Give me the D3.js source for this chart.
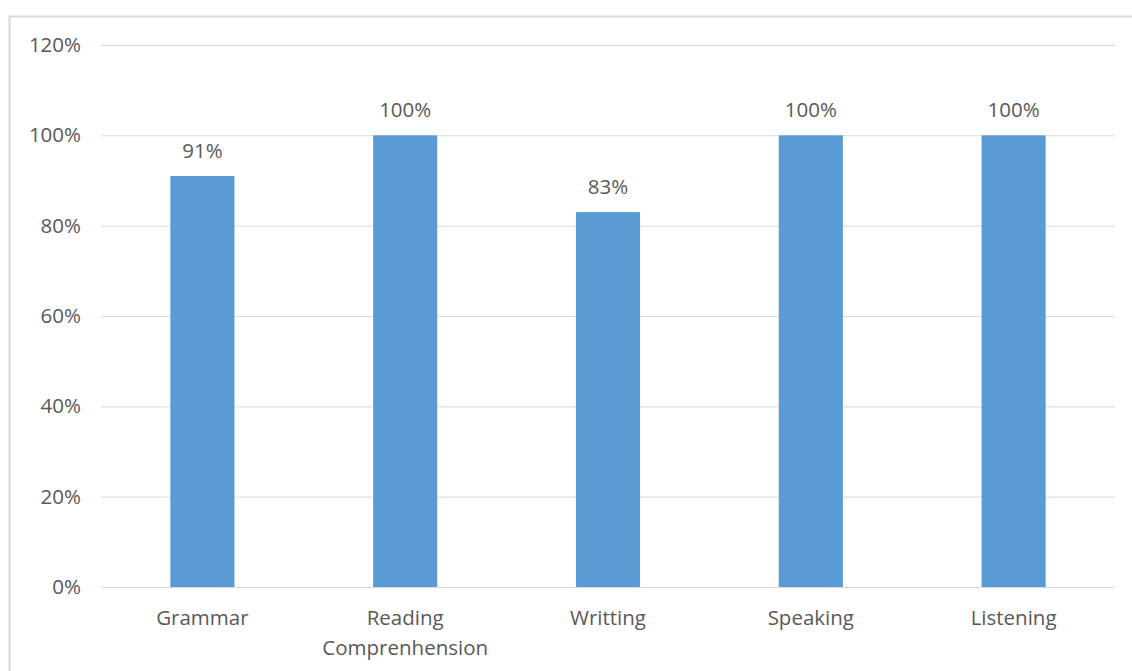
<!DOCTYPE html>
<html>
<head>
<meta charset="utf-8">
<script src="https://cdn.jsdelivr.net/npm/d3@7"></script>
<style>
  body { margin: 0; background: #fff; }
  svg text { font-family: "Open Sans", Lato, sans-serif; fill: #595959; }
</style>
</head>
<body>
<div id="chart"></div>
<script>
// data
const skills = ["Grammar", "Reading Comprenhension", "Writting", "Speaking", "Listening"];
const scores = [0.91, 1.00, 0.83, 1.00, 1.00];
const yTicks = [0, 0.2, 0.4, 0.6, 0.8, 1.0, 1.2];

const width = 1132, height = 671;
const fontSize = 20.5;

const svg = d3.select("div#chart").append("svg")
    .attr("width", width)
    .attr("height", height);

// chart frame
svg.append("rect")
    .attr("x", 9.5)
    .attr("y", 16.5)
    .attr("width", 1140)
    .attr("height", 700)
    .attr("fill", "none")
    .attr("stroke", "#d9d9d9")
    .attr("stroke-width", 2);

const x = d3.scaleBand()
    .domain(skills)
    .range([101, 1115])
    .paddingInner(0.684)
    .paddingOuter(0.342);

const y = d3.scaleLinear()
    .domain([0, 1.2])
    .range([587, 45]);

// grid lines
svg.append("g")
    .selectAll("line")
    .data(yTicks)
    .join("line")
    .attr("x1", 101)
    .attr("x2", 1115)
    .attr("y1", d => y(d) + 0.5)
    .attr("y2", d => y(d) + 0.5)
    .attr("stroke", "#d9d9d9")
    .attr("stroke-width", 1);

// y tick labels
svg.append("g")
    .selectAll("text")
    .data(yTicks)
    .join("text")
    .attr("x", 81)
    .attr("y", d => y(d) + 7)
    .attr("text-anchor", "end")
    .attr("font-size", fontSize)
    .text(d => d3.format(".0%")(d));

// bars
svg.append("g")
    .selectAll("rect")
    .data(scores)
    .join("rect")
    .attr("x", (d, i) => x(skills[i]))
    .attr("y", d => y(d))
    .attr("width", x.bandwidth())
    .attr("height", d => y(0) - y(d))
    .attr("fill", "#5b9bd5");

// value labels
svg.append("g")
    .selectAll("text")
    .data(scores)
    .join("text")
    .attr("x", (d, i) => x(skills[i]) + x.bandwidth() / 2)
    .attr("y", d => y(d) - 18)
    .attr("text-anchor", "middle")
    .attr("font-size", fontSize)
    .text(d => d3.format(".0%")(d));

// category labels, long ones wrapped
const cat = svg.append("g")
    .selectAll("text")
    .data(skills)
    .join("text")
    .attr("x", d => x(d) + x.bandwidth() / 2)
    .attr("y", 625)
    .attr("text-anchor", "middle")
    .attr("font-size", fontSize);

cat.each(function (d) {
    const words = d.split(" ");
    const t = d3.select(this);
    words.forEach((w, i) => {
        t.append("tspan")
            .attr("x", t.attr("x"))
            .attr("dy", i == 0 ? 0 : 30)
            .text(w);
    });
});
</script>
</body>
</html>
